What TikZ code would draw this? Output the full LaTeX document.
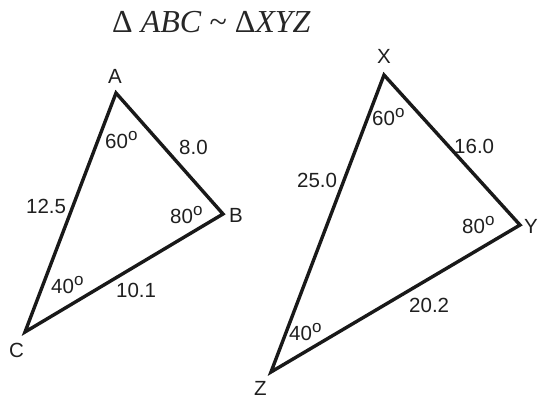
\documentclass[tikz,border=0pt]{standalone}
\usepackage{fontspec}
\setmainfont{Liberation Sans}
\newfontfamily\titlefont{Liberation Serif}
\newcommand\degO{\raisebox{0.36em}{\fontsize{17}{17}\selectfont o}}
\begin{document}
\begin{tikzpicture}[x=1pt,y=-1pt,
  side/.style={line width=3.4pt, line join=miter, black!90},
  lbl/.style={font=\fontsize{20.5}{20.5}\selectfont, inner sep=0pt, anchor=base west, text=black!88},
  ttl/.style={font=\titlefont\fontsize{32}{32}\selectfont, inner sep=0pt, anchor=base west, text=black!85}
]
\useasboundingbox (0,0) rectangle (538,399);
% vertices
\coordinate (A) at (116,93);
\coordinate (B) at (223,214);
\coordinate (C) at (25,332);
\coordinate (X) at (384,75);
\coordinate (Y) at (520,225);
\coordinate (Z) at (271,372);
% title
\node[ttl] (title) at (112,32) {\textup{Δ} \textit{ABC} \textasciitilde\ \textup{Δ}\textit{XYZ}};
% triangles
\draw[side] (A) -- (B) -- (C) -- cycle;
\draw[side] (X) -- (Y) -- (Z) -- cycle;
% vertex labels
\node[lbl] (lA) at (108,83) {A};
\node[lbl] (lB) at (229,222) {B};
\node[lbl] (lC) at (9,357) {C};
\node[lbl] (lX) at (377,63) {X};
\node[lbl] (lY) at (524,233) {Y};
\node[lbl] (lZ) at (254,395) {Z};
% ABC measures
\node[lbl] (aA) at (105,148) {60\degO};
\node[lbl] (aB) at (170,223) {80\degO};
\node[lbl] (aC) at (51,293) {40\degO};
\node[lbl] (sAB) at (179,154) {8.0};
\node[lbl] (sAC) at (26,213) {12.5};
\node[lbl] (sBC) at (116,297) {10.1};
% XYZ measures
\node[lbl] (aX) at (372,125) {60\degO};
\node[lbl] (aY) at (462,233) {80\degO};
\node[lbl] (aZ) at (289,340) {40\degO};
\node[lbl] (sXY) at (454,153) {16.0};
\node[lbl] (sXZ) at (297,187) {25.0};
\node[lbl] (sYZ) at (409,312) {20.2};
\end{tikzpicture}
\end{document}
